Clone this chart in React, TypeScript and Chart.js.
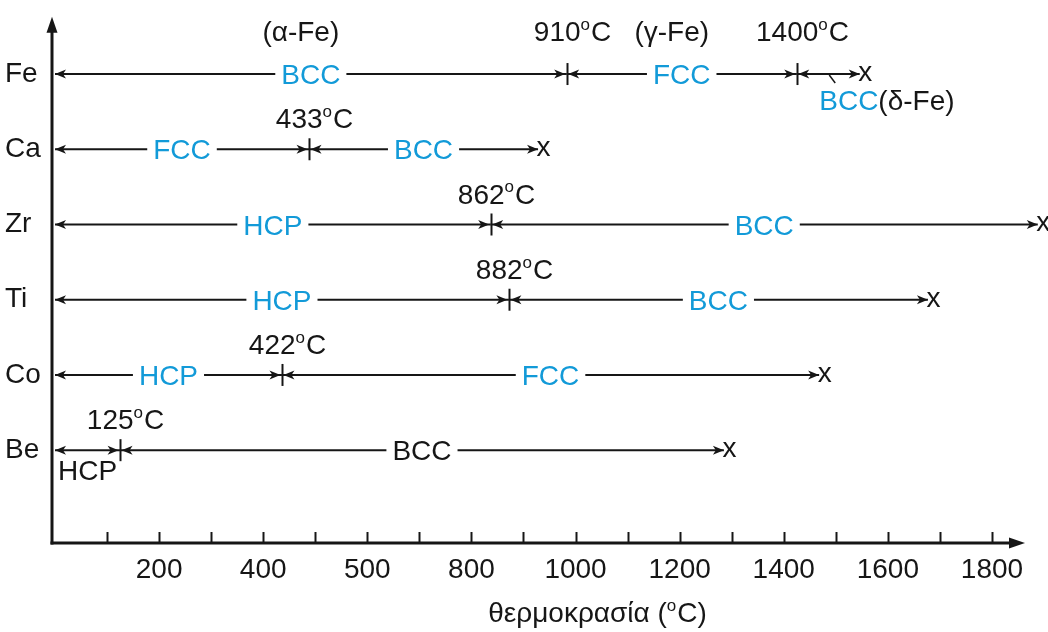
import React, { useEffect, useRef } from 'react';
import { Chart, registerables } from 'chart.js';

Chart.register(...registerables);

// ---- data (positions on the drawn temperature axis) ----
const metals = ['Fe', 'Ca', 'Zr', 'Ti', 'Co', 'Be'];
const transitionAt: number[][] = [[983, 1425], [488], [837], [872], [436], [125]];
const transitionText: string[][] = [['910', '1400'], ['433'], ['862'], ['882'], ['422'], ['125']];
const meltAt = [1546, 928, 1888, 1677, 1468, 1285];
const phaseNames: string[][] = [
  ['BCC', 'FCC', 'BCC'],
  ['FCC', 'BCC'],
  ['HCP', 'BCC'],
  ['HCP', 'BCC'],
  ['HCP', 'FCC'],
  ['HCP', 'BCC'],
];
const ironNotes = ['(α-Fe)', '(γ-Fe)', '(δ-Fe)'];
const xTickValues = [200, 400, 600, 800, 1000, 1200, 1400, 1600, 1800];
const xTickLabels = ['200', '400', '500', '800', '1000', '1200', '1400', '1600', '1800'];
const xTickMarks = [100, 200, 300, 400, 500, 600, 700, 800, 900, 1000, 1100, 1200, 1300, 1400, 1500, 1600, 1700, 1800];
const xTitleMain = 'θερμοκρασία (';
const xTitleUnit = 'C)';

// ---- styles ----
const FONT = '"Liberation Sans", Arial, Helvetica, sans-serif';
const INK = '#161616';
const BLUE = '#129ad8';
const SIZE = 28;
const SUP = 17;

type Piece = { t: string; color?: string; sup?: boolean };

function pieceFont(p: Piece) {
  return `${p.sup ? SUP : SIZE}px ${FONT}`;
}

function richWidth(ctx: CanvasRenderingContext2D, pieces: Piece[]) {
  let w = 0;
  for (const p of pieces) {
    ctx.font = pieceFont(p);
    w += ctx.measureText(p.t).width + (p.sup ? 1 : 0);
  }
  return w;
}

function drawRich(ctx: CanvasRenderingContext2D, pieces: Piece[], x: number, cy: number, align: 'left' | 'center') {
  const w = richWidth(ctx, pieces);
  let cx = align === 'center' ? x - w / 2 : x;
  const cap = SIZE * 0.716;
  const base = cy + cap / 2;
  ctx.textAlign = 'left';
  ctx.textBaseline = 'alphabetic';
  for (const p of pieces) {
    ctx.font = pieceFont(p);
    ctx.fillStyle = p.color || INK;
    const by = p.sup ? base - cap + SUP * 0.519 : base;
    ctx.fillText(p.t, cx, by);
    cx += ctx.measureText(p.t).width + (p.sup ? 1 : 0);
  }
  return w;
}

function arrowHead(ctx: CanvasRenderingContext2D, tipX: number, y: number, dir: number) {
  ctx.beginPath();
  ctx.moveTo(tipX, y);
  ctx.lineTo(tipX - dir * 11, y - 4.5);
  ctx.lineTo(tipX - dir * 8, y);
  ctx.lineTo(tipX - dir * 11, y + 4.5);
  ctx.closePath();
  ctx.fill();
}

const annotatePlugin = {
  id: 'phaseAnnotations',
  afterDatasetsDraw(chart: any) {
    const { ctx, chartArea: a, scales } = chart;
    const xs = scales.x;
    const ys = scales.y;
    ctx.save();
    ctx.strokeStyle = INK;
    ctx.fillStyle = INK;
    ctx.lineCap = 'butt';

    // axes with arrows
    const ax = a.left - 3;
    const ay = a.bottom;
    ctx.lineWidth = 3;
    ctx.beginPath();
    ctx.moveTo(ax, ay + 1.5);
    ctx.lineTo(ax, a.top + 12);
    ctx.stroke();
    ctx.beginPath();
    ctx.moveTo(ax, a.top);
    ctx.lineTo(ax - 5.5, a.top + 16);
    ctx.lineTo(ax + 5.5, a.top + 16);
    ctx.closePath();
    ctx.fill();
    const endX = a.right - 19;
    ctx.beginPath();
    ctx.moveTo(ax - 1.5, ay);
    ctx.lineTo(endX - 12, ay);
    ctx.stroke();
    ctx.beginPath();
    ctx.moveTo(endX, ay);
    ctx.lineTo(endX - 16, ay - 5.5);
    ctx.lineTo(endX - 16, ay + 5.5);
    ctx.closePath();
    ctx.fill();

    // tick marks on the temperature axis
    ctx.lineWidth = 2;
    for (const v of xTickMarks) {
      const px = Math.round(xs.getPixelForValue(v)) + 0.5;
      ctx.beginPath();
      ctx.moveTo(px, ay - 11);
      ctx.lineTo(px, ay);
      ctx.stroke();
    }

    // axis title
    drawRich(
      ctx,
      [{ t: xTitleMain }, { t: 'o', sup: true }, { t: xTitleUnit }],
      (a.left + a.right) / 2 + 48,
      a.bottom + 69,
      'center'
    );

    // rows
    metals.forEach((m, i) => {
      const py = ys.getPixelForValue(i);
      const bounds = [0, ...transitionAt[i], meltAt[i]];
      const lift = i === 0 ? 43 : 31;
      const nSeg = bounds.length - 1;
      ctx.fillStyle = INK;
      ctx.strokeStyle = INK;

      for (let k = 0; k < nSeg; k++) {
        const x0 = xs.getPixelForValue(bounds[k]);
        const x1 = xs.getPixelForValue(bounds[k + 1]);
        ctx.fillStyle = INK;
        arrowHead(ctx, k === 0 ? x0 : x0 + 1.5, py, -1);
        arrowHead(ctx, k === nSeg - 1 ? x1 : x1 - 1.5, py, 1);

        const mid = (x0 + x1) / 2;
        const color = m === 'Be' ? INK : BLUE;
        if (m === 'Be' && k === 0) {
          drawRich(ctx, [{ t: phaseNames[i][k], color }], mid, py + 20, 'center');
        } else if (m === 'Fe' && k === 2) {
          ctx.strokeStyle = INK;
          ctx.lineWidth = 1.5;
          ctx.beginPath();
          ctx.moveTo(mid + 1, py + 1);
          ctx.lineTo(mid + 7, py + 9);
          ctx.stroke();
          drawRich(ctx, [{ t: phaseNames[i][k], color }, { t: ironNotes[k] }], mid - 9, py + 26, 'left');
        } else {
          const w = richWidth(ctx, [{ t: phaseNames[i][k] }]);
          ctx.fillStyle = '#ffffff';
          ctx.fillRect(mid - w / 2 - 6, py - 4, w + 12, 8);
          drawRich(ctx, [{ t: phaseNames[i][k], color }], mid, py, 'center');
        }
        if (m === 'Fe' && k < 2) {
          drawRich(ctx, [{ t: ironNotes[k] }], mid - 10, py - lift, 'center');
        }
      }

      // transition markers and temperatures
      transitionAt[i].forEach((t, j) => {
        const px = Math.round(xs.getPixelForValue(t)) + 0.5;
        ctx.strokeStyle = INK;
        ctx.lineWidth = 2;
        ctx.beginPath();
        ctx.moveTo(px, py - 11);
        ctx.lineTo(px, py + 11);
        ctx.stroke();
        drawRich(
          ctx,
          [{ t: transitionText[i][j] }, { t: 'o', sup: true }, { t: 'C' }],
          px + 5,
          py - lift,
          'center'
        );
      });

      // melting point marker
      const xe = xs.getPixelForValue(meltAt[i]);
      ctx.font = `${SIZE}px ${FONT}`;
      ctx.fillStyle = INK;
      ctx.textAlign = 'left';
      ctx.textBaseline = 'alphabetic';
      ctx.fillText('x', xe - 1.5, py + 7);
    });

    ctx.restore();
  },
};

export default function App() {
  const ref = useRef<HTMLCanvasElement>(null);

  useEffect(() => {
    document.body.style.margin = '0';
    const datasets: any[] = [];
    metals.forEach((m, i) => {
      const bounds = [0, ...transitionAt[i], meltAt[i]];
      for (let k = 0; k < bounds.length - 1; k++) {
        datasets.push({
          label: `${m} ${phaseNames[i][k]}`,
          data: [
            { x: bounds[k], y: i },
            { x: bounds[k + 1], y: i },
          ],
          showLine: true,
          borderColor: INK,
          borderWidth: 2,
          pointRadius: 0,
          pointHoverRadius: 0,
          clip: false,
        });
      }
    });

    const chart = new Chart(ref.current as HTMLCanvasElement, {
      type: 'scatter',
      data: { datasets },
      options: {
        animation: false,
        responsive: false,
        events: [],
        layout: { padding: { left: 5, right: 4, top: 10, bottom: 0 } },
        plugins: { legend: { display: false }, tooltip: { enabled: false } },
        scales: {
          x: {
            type: 'linear',
            min: 0,
            max: 1900,
            grid: { display: false, drawTicks: false },
            border: { display: false },
            afterBuildTicks: (scale: any) => {
              scale.ticks = xTickValues.map((v) => ({ value: v }));
            },
            afterFit: (scale: any) => {
              scale.height = 89;
            },
            ticks: {
              autoSkip: false,
              maxRotation: 0,
              padding: 10,
              color: INK,
              font: { family: FONT, size: SIZE },
              callback: (v: any) => {
                const idx = xTickValues.indexOf(Number(v));
                return idx >= 0 ? xTickLabels[idx] : '';
              },
            },
          },
          y: {
            type: 'linear',
            reverse: true,
            min: -0.761,
            max: 6.234,
            grid: { display: false, drawTicks: false },
            border: { display: false },
            afterBuildTicks: (scale: any) => {
              scale.ticks = metals.map((_, i) => ({ value: i }));
            },
            afterFit: (scale: any) => {
              scale.width = 50;
            },
            ticks: {
              autoSkip: false,
              crossAlign: 'far',
              padding: 0,
              color: INK,
              font: { family: FONT, size: SIZE },
              callback: (v: any) => metals[Number(v)] ?? '',
            },
          },
        },
      },
      plugins: [annotatePlugin],
    });
    return () => chart.destroy();
  }, []);

  return (
    <div style={{ width: 1048, height: 632, background: '#ffffff' }}>
      <canvas ref={ref} width={1048} height={632} style={{ display: 'block' }} />
    </div>
  );
}
